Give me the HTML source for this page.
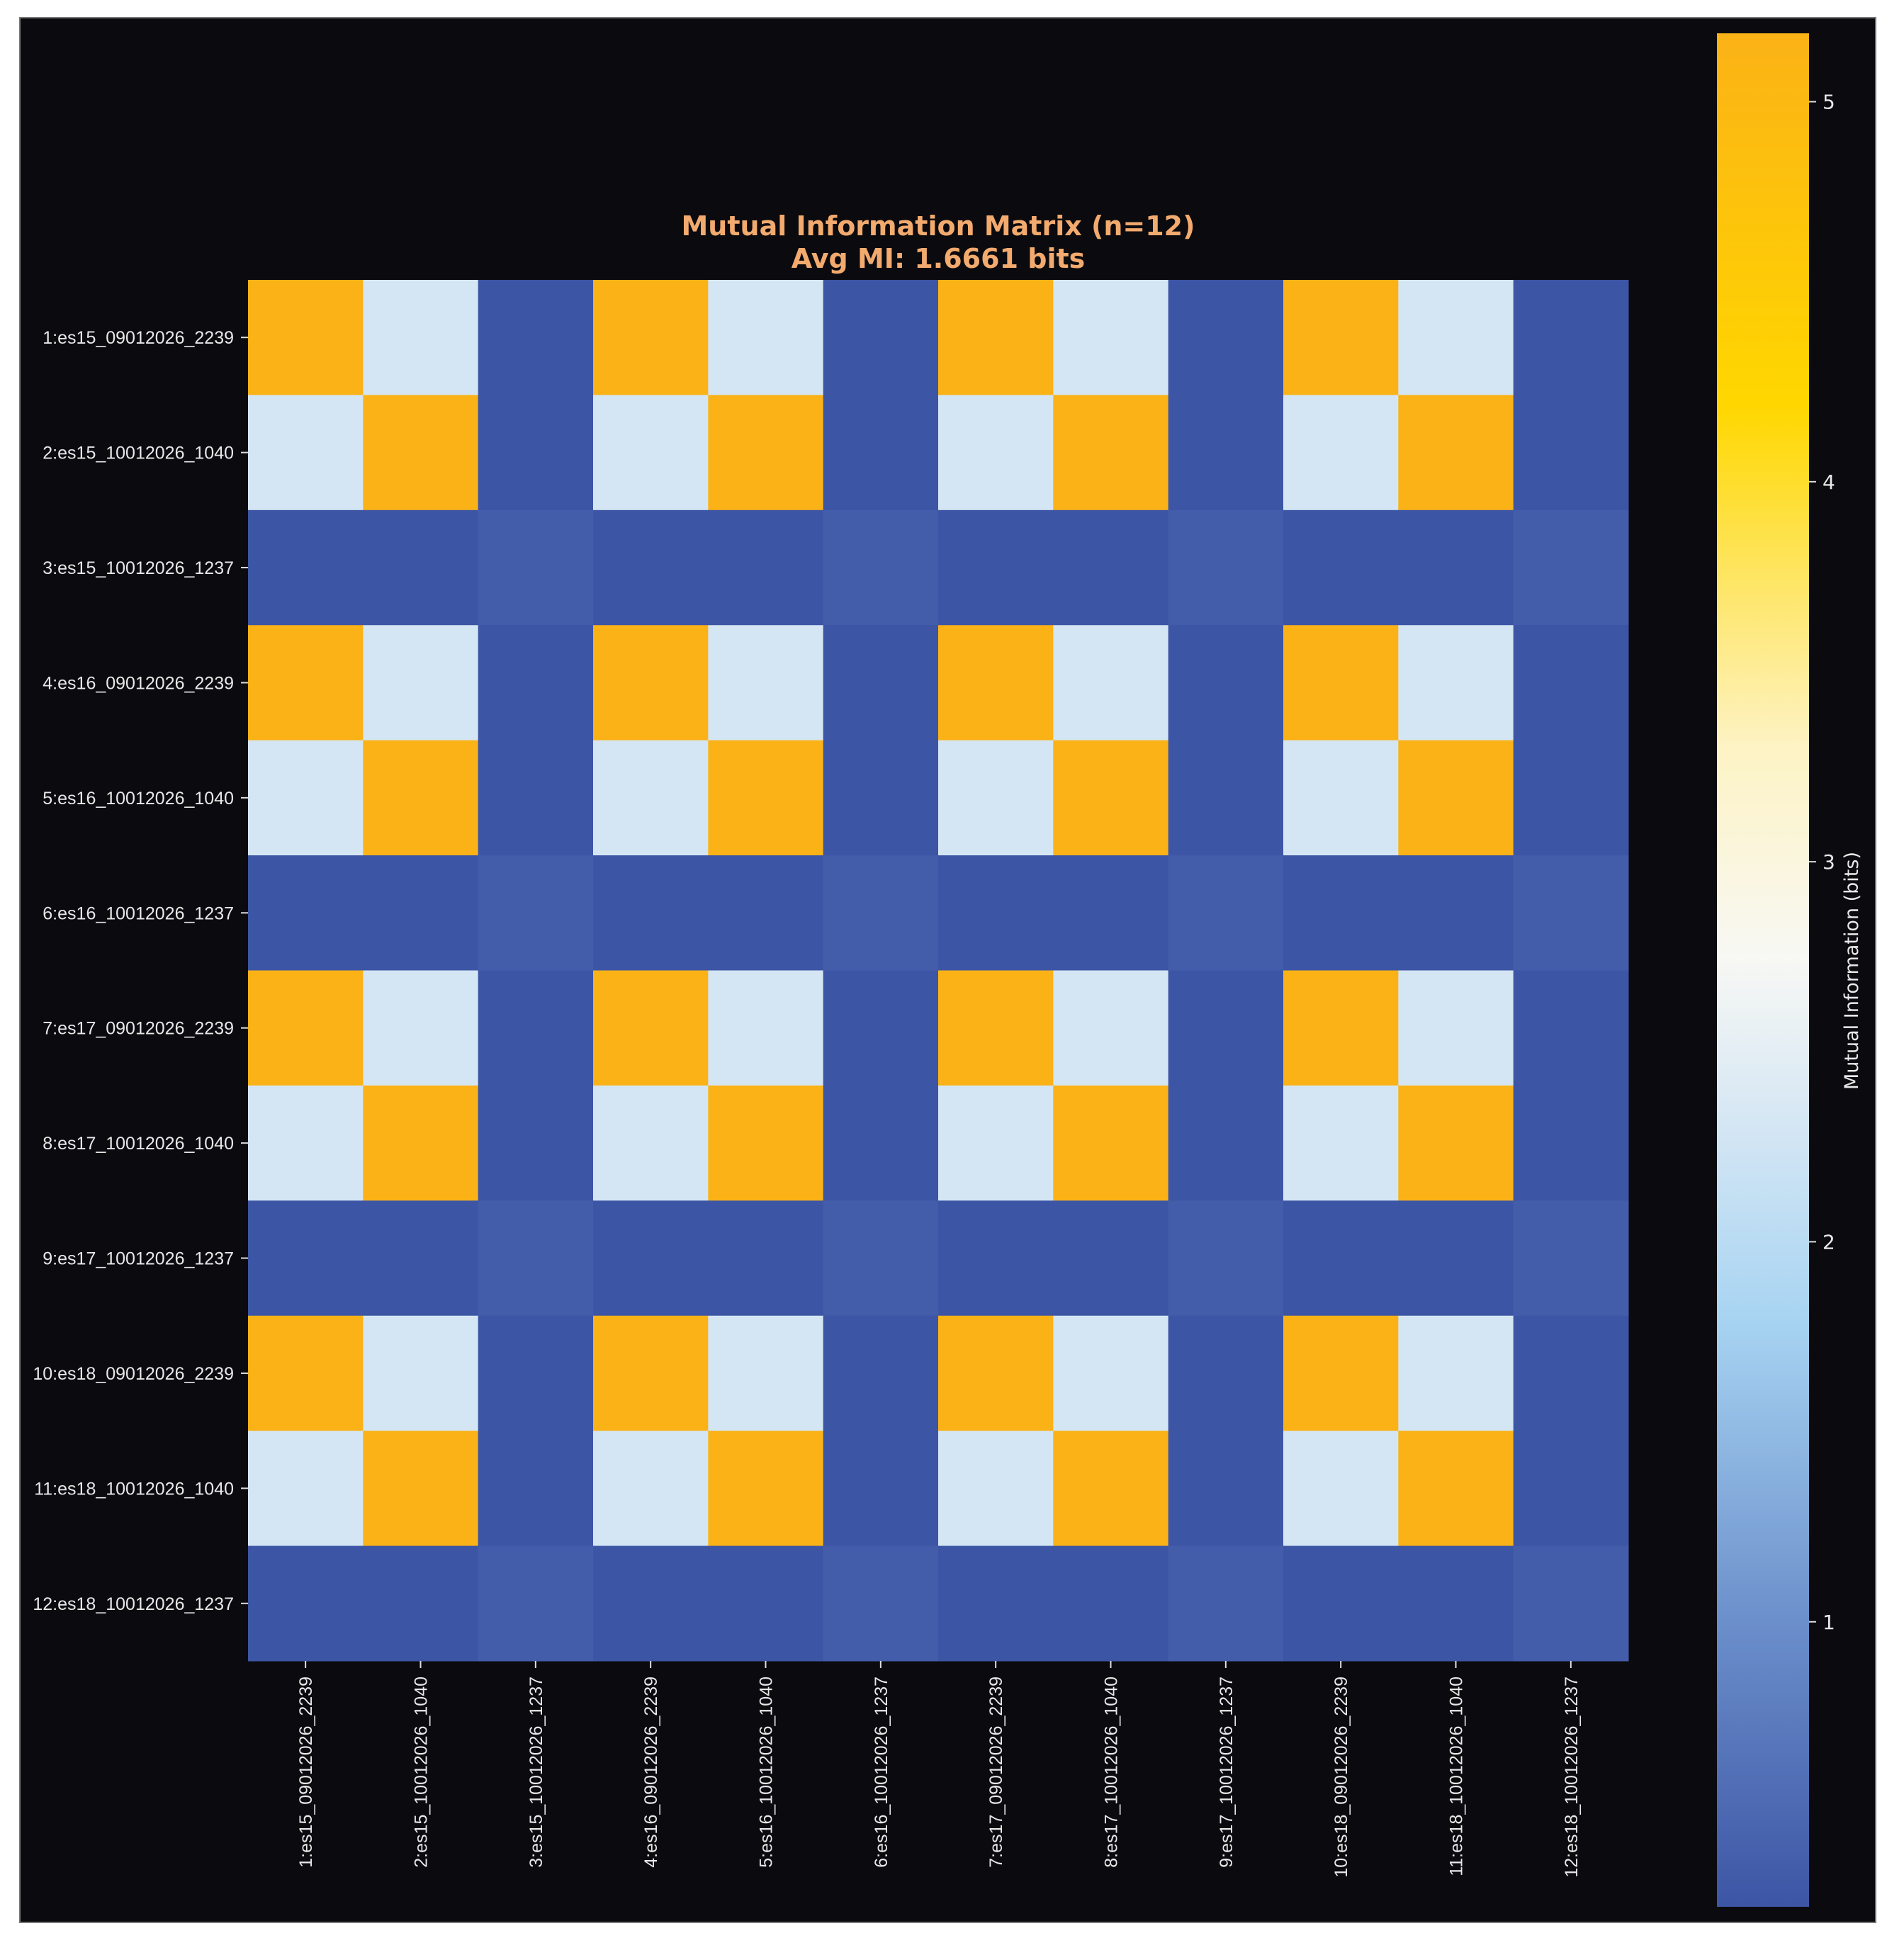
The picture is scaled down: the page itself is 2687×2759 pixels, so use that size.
<!DOCTYPE html>
<html><head><meta charset="utf-8"><style>
html,body{margin:0;padding:0;background:#fff;}
svg{display:block;}
</style></head><body>
<svg id="chart" width="2687" height="2759" viewBox="0 0 2687 2759" xmlns="http://www.w3.org/2000/svg">
<defs>
<linearGradient id="cbgrad" x1="0" y1="1" x2="0" y2="0"></linearGradient>
</defs>
<rect x="28" y="25" width="2619" height="2688" fill="#0b0b0f" stroke="#777" stroke-width="2"/>
<text x="1324" y="332" text-anchor="middle" font-family="'DejaVu Sans','Liberation Sans',sans-serif" font-weight="bold" font-size="38" fill="#f2aa6e">Mutual Information Matrix (n=12)</text>
<text x="1324" y="378" text-anchor="middle" font-family="'DejaVu Sans','Liberation Sans',sans-serif" font-weight="bold" font-size="38" fill="#f2aa6e">Avg MI: 1.6661 bits</text>
<g id="cells"></g>
<g id="yticks"></g>
<g id="xticks"></g>
<rect id="cbar" x="2423" y="47" width="130" height="2644" fill="url(#cbgrad)"/>
<g id="cbticks"></g>
<text transform="translate(2622,1370) rotate(-90)" text-anchor="middle" font-family="'DejaVu Sans','Liberation Sans',sans-serif" font-size="27" fill="#e8e8e8">Mutual Information (bits)</text>
</svg>
<script>
const labels = ["1:es15_09012026_2239","2:es15_10012026_1040","3:es15_10012026_1237","4:es16_09012026_2239","5:es16_10012026_1040","6:es16_10012026_1237","7:es17_09012026_2239","8:es17_10012026_1040","9:es17_10012026_1237","10:es18_09012026_2239","11:es18_10012026_1040","12:es18_10012026_1237"];
const H = 5.18, L = 2.3, D = 0.25, E = 0.35;
const values = [
[H,L,D,H,L,D,H,L,D,H,L,D],
[L,H,D,L,H,D,L,H,D,L,H,D],
[D,D,E,D,D,E,D,D,E,D,D,E],
[H,L,D,H,L,D,H,L,D,H,L,D],
[L,H,D,L,H,D,L,H,D,L,H,D],
[D,D,E,D,D,E,D,D,E,D,D,E],
[H,L,D,H,L,D,H,L,D,H,L,D],
[L,H,D,L,H,D,L,H,D,L,H,D],
[D,D,E,D,D,E,D,D,E,D,D,E],
[H,L,D,H,L,D,H,L,D,H,L,D],
[L,H,D,L,H,D,L,H,D,L,H,D],
[D,D,E,D,D,E,D,D,E,D,D,E]
];
const cbTicks = [1,2,3,4,5];
const vmin = 0.25, vmax = 5.18;
const stopVals = [0.25,1.0,1.8,2.3,2.75,3.3,4.2,5.18];
const stopCols = ["#3d55a5","#6b8fcb","#a8d4f2","#d4e6f4","#f8f8f4","#fdf3c4","#ffd700","#fbb216"];

const NS="http://www.w3.org/2000/svg";
const X0=350,X1=2298,Y0=395,Y1=2344;
const n=labels.length, cw=(X1-X0)/n, ch=(Y1-Y0)/n;
function xPos(j){return X0+j*cw;}
function yPos(i){return Y0+i*ch;}
const CB_TOP=47,CB_BOT=2691;
function cbY(v){return CB_BOT-(v-vmin)/(vmax-vmin)*(CB_BOT-CB_TOP);}
function hex(c){return [parseInt(c.substr(1,2),16),parseInt(c.substr(3,2),16),parseInt(c.substr(5,2),16)];}
function color(v){
  if(v<=stopVals[0])return stopCols[0];
  for(let k=1;k<stopVals.length;k++){
    if(v<=stopVals[k]){
      const t=(v-stopVals[k-1])/(stopVals[k]-stopVals[k-1]);
      const a=hex(stopCols[k-1]),b=hex(stopCols[k]);
      return "rgb("+a.map((x,i)=>Math.round(x+(b[i]-x)*t)).join(",")+")";
    }
  }
  return stopCols[stopCols.length-1];
}
const grad=document.getElementById('cbgrad');
stopVals.forEach((v,k)=>{
  const s=document.createElementNS(NS,'stop');
  s.setAttribute('offset',((v-vmin)/(vmax-vmin)).toFixed(4));
  s.setAttribute('stop-color',stopCols[k]);
  grad.appendChild(s);
});
const cells=document.getElementById('cells');
values.forEach((row,i)=>row.forEach((v,j)=>{
  const r=document.createElementNS(NS,'rect');
  
  
  r.setAttribute('x',xPos(j));r.setAttribute('y',yPos(i));
  r.setAttribute('width',cw+0.5);r.setAttribute('height',ch+0.5);
  r.setAttribute('fill',color(v));
  cells.appendChild(r);
}));
const yt=document.getElementById('yticks'), xt=document.getElementById('xticks');
labels.forEach((lab,i)=>{
  const cy=yPos(i)+ch/2;
  const tk=document.createElementNS(NS,'line');
  
  
  tk.setAttribute('x1',X0-10);tk.setAttribute('x2',X0);tk.setAttribute('y1',cy);tk.setAttribute('y2',cy);
  tk.setAttribute('stroke','#ddd');tk.setAttribute('stroke-width','2');
  yt.appendChild(tk);
  const t=document.createElementNS(NS,'text');
  
  
  t.setAttribute('x',X0-20);t.setAttribute('y',cy+9);
  t.setAttribute('text-anchor','end');
  t.setAttribute('font-family',"'Liberation Sans',sans-serif");
  t.setAttribute('font-size','25');t.setAttribute('fill','#e8e8e8');
  t.textContent=lab;
  yt.appendChild(t);
  const cx=xPos(i)+cw/2;
  const tk2=document.createElementNS(NS,'line');
  
  
  tk2.setAttribute('x1',cx);tk2.setAttribute('x2',cx);tk2.setAttribute('y1',Y1);tk2.setAttribute('y2',Y1+10);
  tk2.setAttribute('stroke','#ddd');tk2.setAttribute('stroke-width','2');
  xt.appendChild(tk2);
  const t2=document.createElementNS(NS,'text');
  
  
  t2.setAttribute('transform','translate('+(cx+9)+','+(Y1+22)+') rotate(-90)');
  t2.setAttribute('text-anchor','end');
  t2.setAttribute('font-family',"'Liberation Sans',sans-serif");
  t2.setAttribute('font-size','25');t2.setAttribute('fill','#e8e8e8');
  t2.textContent=lab;
  xt.appendChild(t2);
});
const cbt=document.getElementById('cbticks');
cbTicks.forEach(v=>{
  const y=cbY(v);
  const l=document.createElementNS(NS,'line');
  
  
  l.setAttribute('x1',2553);l.setAttribute('x2',2563);l.setAttribute('y1',y);l.setAttribute('y2',y);
  l.setAttribute('stroke','#ddd');l.setAttribute('stroke-width','2');
  cbt.appendChild(l);
  const t=document.createElementNS(NS,'text');
  
  
  t.setAttribute('x',2572);t.setAttribute('y',y+10);
  t.setAttribute('font-family',"'DejaVu Sans','Liberation Sans',sans-serif");
  t.setAttribute('font-size','28');t.setAttribute('fill','#e8e8e8');
  t.textContent=String(v);
  cbt.appendChild(t);
});
</script>
</body></html>
